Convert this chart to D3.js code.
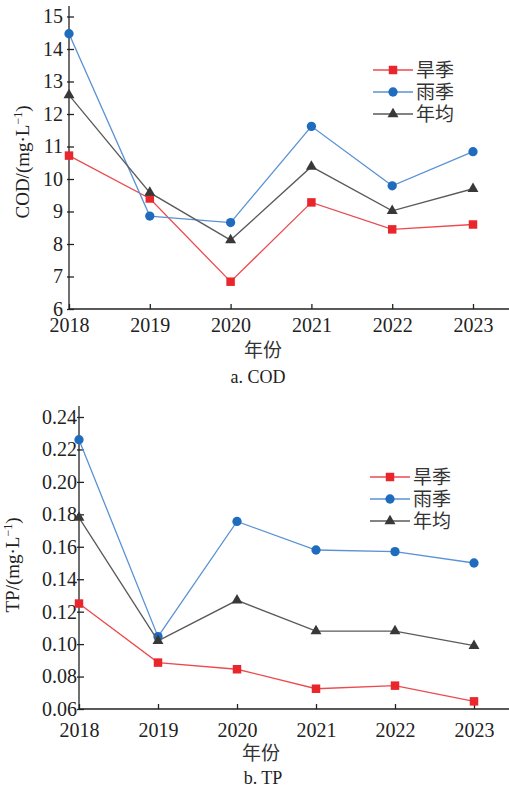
<!DOCTYPE html>
<html>
<head>
<meta charset="utf-8">
<script src="https://cdn.jsdelivr.net/npm/d3@7"></script>
<style>
  body { margin: 0; background: #fff; }
  svg text { font-family: "Liberation Serif", "Noto Sans CJK SC", serif; fill: #222; }
  .axis path, .axis line { stroke: #222; stroke-width: 1.3; }
</style>
</head>
<body>
<svg id="chart" width="509" height="789"></svg>
<script>
// data
const years = ['2018', '2019', '2020', '2021', '2022', '2023'];
const seriesNames = ['旱季', '雨季', '年均'];

const codDry = [10.72, 9.40, 6.84, 9.28, 8.45, 8.60];
const codWet = [14.47, 8.86, 8.66, 11.62, 9.79, 10.84];
const codAvg = [12.58, 9.58, 8.12, 10.38, 9.02, 9.70];
const codTicks = [6, 7, 8, 9, 10, 11, 12, 13, 14, 15];

const tpDry = [0.125, 0.0886, 0.0845, 0.0725, 0.0744, 0.0647];
const tpWet = [0.226, 0.1046, 0.1756, 0.158, 0.157, 0.150];
const tpAvg = [0.178, 0.102, 0.127, 0.108, 0.108, 0.099];
const tpTicks = [0.06, 0.08, 0.10, 0.12, 0.14, 0.16, 0.18, 0.20, 0.22, 0.24];

const pal = {
    line: ['#ec4a4e', '#5a92d4', '#5a5a5a'],
    mark: ['#e8262b', '#1f6cbf', '#383838']
};
const serif = '"Liberation Serif", "Times New Roman", serif';
const cjk = '"Noto Sans CJK SC", sans-serif';

const svg = d3.select('#chart');

function drawPanel(cfg) {
    let g = svg.append('g');

    let x = d3.scalePoint().domain(years).range([cfg.left, cfg.right]);
    let y = d3.scaleLinear().domain(cfg.domain).range([cfg.bottom, cfg.top]);

    // axes
    let xAxis = d3.axisBottom(x).tickSize(-5).tickPadding(cfg.xPad).tickSizeOuter(0);
    let yAxis = d3.axisLeft(y).tickValues(cfg.ticks).tickFormat(cfg.fmt)
        .tickSize(-5).tickPadding(cfg.yPad).tickSizeOuter(0);

    let gx = g.append('g').attr('class', 'axis')
        .attr('transform', 'translate(0,' + cfg.bottom + ')').call(xAxis);
    gx.select('.domain').attr('d', 'M' + cfg.left + ',0H509');
    gx.attr('font-family', null).attr('font-size', null);
    gx.selectAll('text').style('font-family', serif).style('font-size', '20px').style('fill', '#222');

    let gy = g.append('g').attr('class', 'axis')
        .attr('transform', 'translate(' + cfg.left + ',0)').call(yAxis);
    gy.select('.domain').attr('d', 'M0,' + cfg.bottom + 'V' + cfg.axisTop);
    gy.attr('font-family', null).attr('font-size', null);
    gy.selectAll('.tick line').attr('x1', -2);
    gy.selectAll('text').style('font-family', serif).style('font-size', '20px').style('fill', '#222');

    // lines + markers
    let sym = [d3.symbolSquare, d3.symbolCircle, d3.symbolTriangle];
    let symSize = [72, 68, 52];
    let line = d3.line().x((d, i) => x(years[i])).y(d => y(d));

    cfg.series.forEach((vals, k) => {
        g.append('path').datum(vals)
            .attr('d', line)
            .attr('fill', 'none')
            .attr('stroke', pal.line[k])
            .attr('stroke-width', 1.3);
        g.selectAll('.m' + k).data(vals).enter()
            .append('path')
            .attr('class', 'm' + k)
            .attr('d', d3.symbol().type(sym[k]).size(symSize[k]))
            .attr('fill', pal.mark[k])
            .attr('transform', (d, i) => 'translate(' + x(years[i]) + ',' + y(d) + ')');
    });

    // legend
    seriesNames.forEach((name, k) => {
        let ly = cfg.legY + k * 22;
        g.append('line')
            .attr('x1', cfg.legX).attr('x2', cfg.legX + 40)
            .attr('y1', ly).attr('y2', ly)
            .attr('stroke', pal.line[k]).attr('stroke-width', 1.3);
        g.append('path')
            .attr('d', d3.symbol().type(sym[k]).size(symSize[k]))
            .attr('fill', pal.mark[k])
            .attr('transform', 'translate(' + (cfg.legX + 20) + ',' + ly + ')');
        g.append('text')
            .attr('x', cfg.legX + 43).attr('y', ly).attr('dy', '0.36em')
            .style('font-family', cjk).style('font-size', '19px').style('fill', '#333')
            .text(name);
    });

    // y title
    let yt = g.append('text')
        .attr('transform', 'translate(' + cfg.yTitleX + ',' + cfg.yTitleY + ') rotate(-90)')
        .attr('text-anchor', 'middle').attr('dy', '0.35em')
        .style('font-family', serif).style('font-size', '19px');
    yt.append('tspan').text(cfg.yName + '/(mg\u00b7L');
    yt.append('tspan').attr('baseline-shift', 'super').style('font-size', '12px').text('\u22121');
    yt.append('tspan').text(')');

    // x title + caption
    g.append('text')
        .attr('x', cfg.xTitleX).attr('y', cfg.xTitleY).attr('dy', '0.36em')
        .attr('text-anchor', 'middle')
        .style('font-family', cjk).style('font-size', '19px').style('fill', '#333')
        .text('年份');
    g.append('text')
        .attr('x', cfg.capX).attr('y', cfg.capY).attr('dy', '0.35em')
        .attr('text-anchor', 'middle')
        .style('font-family', serif).style('font-size', '18px')
        .text(cfg.caption);
}

drawPanel({
    series: [codDry, codWet, codAvg],
    domain: [6, 15], ticks: codTicks, fmt: d3.format('d'),
    left: 69, right: 473, top: 16.5, bottom: 309, axisTop: 6,
    xPad: 9, yPad: 6,
    legX: 373, legY: 70,
    yTitleX: 22, yTitleY: 162, yName: 'COD',
    xTitleX: 263, xTitleY: 350,
    capX: 258, capY: 377, caption: 'a. COD'
});

drawPanel({
    series: [tpDry, tpWet, tpAvg],
    domain: [0.06, 0.24], ticks: tpTicks, fmt: d3.format('.2f'),
    left: 79, right: 474, top: 417, bottom: 709, axisTop: 406,
    xPad: 14, yPad: 2,
    legX: 370, legY: 477,
    yTitleX: 12, yTitleY: 565, yName: 'TP',
    xTitleX: 261, xTitleY: 753,
    capX: 263, capY: 778, caption: 'b. TP'
});
</script>
</body>
</html>
